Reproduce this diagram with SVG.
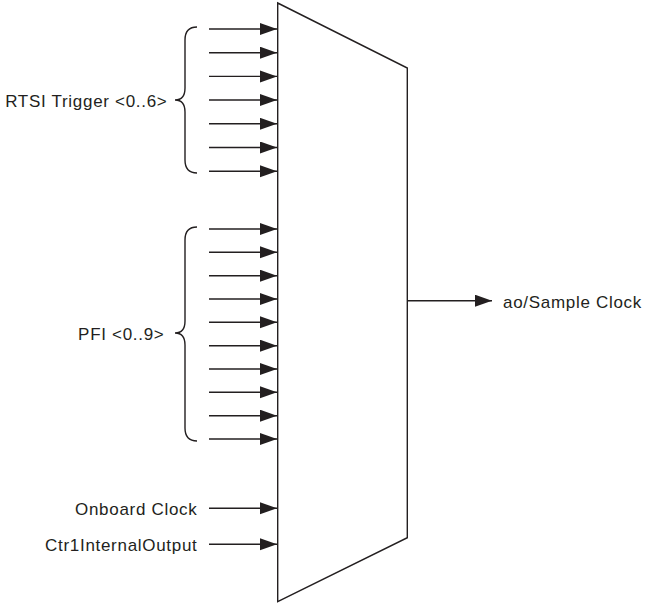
<svg xmlns="http://www.w3.org/2000/svg" width="646" height="603" viewBox="0 0 646 603">
<style>
.ln{stroke:#231f20;stroke-width:1.4;fill:none}
.t{font-family:"Liberation Sans",Arial,sans-serif;font-size:17px;letter-spacing:0.7px;fill:#231f20}
</style>
<defs>
<marker id="ah" markerUnits="userSpaceOnUse" markerWidth="18" markerHeight="13" refX="17" refY="6" orient="auto">
<path d="M0,0 L17,6 L0,12 z" fill="#231f20"/>
</marker>
</defs>
<rect width="646" height="603" fill="#fff"/>
<g id="mux">
<path class="ln" d="M277.7,3 L407.3,68 L407.3,537.7 L277.7,601.7 Z"/>
</g>
<g id="rtsi">
<path class="ln" d="M197,27 C189,27 185,32 185,40 L185,88 C185,96 181,100 175,100 C181,100 185,104 185,112 L185,160 C185,168 189,173 197,173"/>
<text class="t" x="167.5" y="106.5" text-anchor="end">RTSI Trigger &lt;0..6&gt;</text>
</g>
<g id="pfi">
<path class="ln" d="M197,227 C189,227 185,232 185,240 L185,321 C185,329 181,333 175,333 C181,333 185,337 185,345 L185,428 C185,436 189,441 197,441"/>
<text class="t" x="164.5" y="339.5" text-anchor="end">PFI &lt;0..9&gt;</text>
</g>
<g id="onboard">
<text class="t" x="197.5" y="514.5" text-anchor="end">Onboard Clock</text>
</g>
<g id="ctr1">
<text class="t" x="197.5" y="550.5" text-anchor="end">Ctr1InternalOutput</text>
</g>
<g id="out">
<text class="t" x="503" y="308">ao/Sample Clock</text>
</g>
<g id="connectors" class="ln" marker-end="url(#ah)">
<line x1="209" y1="29" x2="277" y2="29"/>
<line x1="209" y1="52.7" x2="277" y2="52.7"/>
<line x1="209" y1="76.4" x2="277" y2="76.4"/>
<line x1="209" y1="100" x2="277" y2="100"/>
<line x1="209" y1="123.8" x2="277" y2="123.8"/>
<line x1="209" y1="147.5" x2="277" y2="147.5"/>
<line x1="209" y1="171.2" x2="277" y2="171.2"/>
<line x1="209" y1="229" x2="277" y2="229"/>
<line x1="209" y1="252.3" x2="277" y2="252.3"/>
<line x1="209" y1="275.7" x2="277" y2="275.7"/>
<line x1="209" y1="299" x2="277" y2="299"/>
<line x1="209" y1="322.3" x2="277" y2="322.3"/>
<line x1="209" y1="345.7" x2="277" y2="345.7"/>
<line x1="209" y1="369" x2="277" y2="369"/>
<line x1="209" y1="392.3" x2="277" y2="392.3"/>
<line x1="209" y1="415.7" x2="277" y2="415.7"/>
<line x1="209" y1="439" x2="277" y2="439"/>
<line x1="209" y1="508.3" x2="277" y2="508.3"/>
<line x1="209" y1="544.3" x2="277" y2="544.3"/>
<line x1="407.3" y1="300.7" x2="492" y2="300.7"/>
</g>
</svg>
